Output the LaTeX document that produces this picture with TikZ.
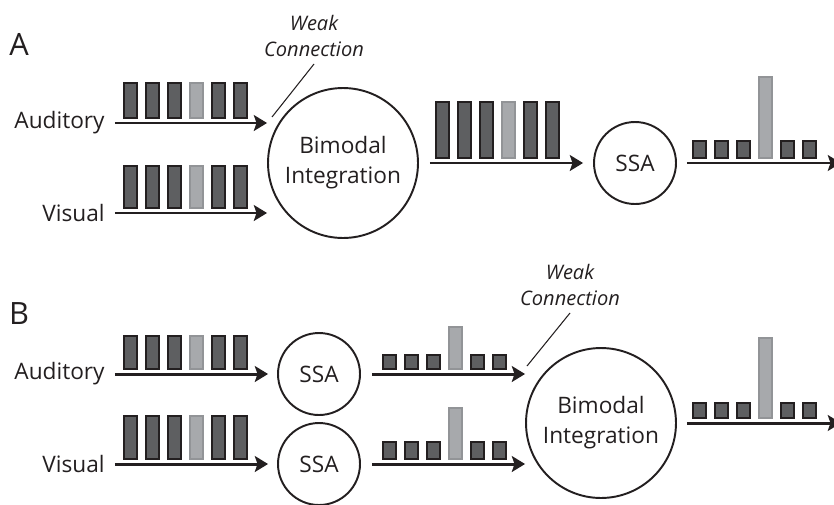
\documentclass[tikz,border=0pt]{standalone}
\usepackage{fontspec}
\setmainfont{Open Sans}
\usetikzlibrary{arrows.meta}

\definecolor{ink}{HTML}{231F20}
\definecolor{spike}{HTML}{5E5F61}
\definecolor{odd}{HTML}{A7A9AC}
\definecolor{oddedge}{HTML}{929497}

\tikzset{
  hub/.style={circle, draw=ink, text=ink, line width=1.1pt, minimum size=3cm, inner sep=0pt,
    align=center, font=\fontsize{12.9}{17}\selectfont},
  ssa/.style={circle, draw=ink, text=ink, line width=1.1pt, minimum size=1.64cm, inner sep=0pt,
    font=\fontsize{12.9}{15}\selectfont},
  lbl/.style={anchor=east, text=ink, inner xsep=0pt, inner ysep=0pt,
    font=\fontsize{12.9}{15}\selectfont},
  panel/.style={text=ink, font=\fontsize{17.5}{19}\selectfont},
  weaklbl/.style={anchor=south, align=center, text=ink, inner sep=4pt,
    font=\fontsize{11.4}{14.6}\selectfont\itshape},
  flow/.style={draw=ink, line width=1.7pt, -{Stealth[length=7.5pt, width=9pt, inset=1.5pt]}},
  weak/.style={draw=ink, line width=0.6pt},
  bar/.style={fill=spike, draw=ink, line width=0.8pt},
  oddbar/.style={fill=odd, draw=oddedge, line width=0.8pt},
}

% spike train: first bar x, bottom y, bar height, height of the odd (4th) bar
\newcommand{\train}[4]{%
  \foreach \i in {0,1,2,4,5}
    \draw[bar] (#1+22*\i, #2) rectangle ++(13,-#3);
  \draw[oddbar] (#1+66, #2) rectangle ++(13,-#4);
}

\begin{document}
\begin{tikzpicture}[x=0.02cm, y=-0.02cm]
  \useasboundingbox (0,0) rectangle (834,504);

  %% ---- panel A: integrate first, then adapt ----
  \node[panel] (labA) at (19,44) {A};
  \node[lbl] (audA) at (105,123) {Auditory};
  \node[lbl] (visA) at (105,213) {Visual};
  \node[hub] (bimA) at (343,163) {Bimodal\\Integration};
  \node[ssa] (ssaA) at (635,163) {SSA};
  \coordinate (outA) at (841,163);

  \draw[flow, shorten <=0.2cm] (audA) -- (audA -| bimA.west);
  \draw[flow, shorten <=0.2cm] (visA) -- (visA -| bimA.west);
  \draw[flow, shorten <=0.22cm, shorten >=0.2cm] (bimA) -- (ssaA);
  \draw[flow, shorten <=0.2cm] (ssaA) -- (outA);

  % weak link onto the auditory input
  \node[weaklbl] (weakA) at (314,64) {Weak\\Connection};
  \coordinate (wA) at (272,117);
  \draw[weak] (wA) -- (weakA.south);

  \train{124}{118}{35}{35}
  \train{124}{208}{42}{42}
  \train{436}{158}{56}{56}
  \train{693}{158}{17}{81}

  %% ---- panel B: adapt each modality, then integrate ----
  \node[panel] (labB) at (19,314) {B};
  \node[lbl] (audB) at (105,374) {Auditory};
  \node[lbl] (visB) at (105,464) {Visual};
  \node[ssa] (ssaB1) at (319,374) {SSA};
  \node[ssa] (ssaB2) at (319,464) {SSA};
  \node[hub] (bimB) at (601,423) {Bimodal\\Integration};
  \coordinate (outB) at (841,423);

  \draw[flow, shorten <=0.2cm, shorten >=0.18cm] (audB) -- (ssaB1);
  \draw[flow, shorten <=0.2cm, shorten >=0.18cm] (visB) -- (ssaB2);
  \draw[flow, shorten <=0.22cm] (ssaB1) -- (ssaB1 -| bimB.west);
  \draw[flow, shorten <=0.22cm] (ssaB2) -- (ssaB2 -| bimB.west);
  \draw[flow, shorten <=0.2cm] (bimB) -- (outB);

  \node[weaklbl] (weakB) at (570,313) {Weak\\Connection};
  \coordinate (wB) at (527,366);
  \draw[weak] (wB) -- (weakB.south);

  \train{124}{369}{33}{33}
  \train{124}{459}{43}{43}
  \train{383}{369}{14}{42}
  \train{383}{459}{17}{51}
  \train{693}{418}{15}{80}
\end{tikzpicture}
\end{document}
